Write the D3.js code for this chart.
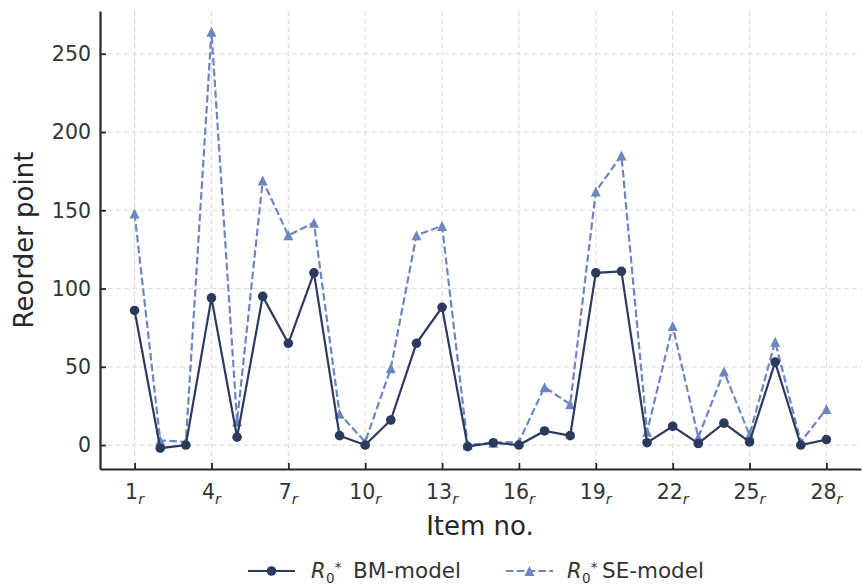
<!DOCTYPE html>
<html>
<head>
<meta charset="utf-8">
<script src="https://cdn.jsdelivr.net/npm/d3@7"></script>
<style>
  html, body { margin: 0; padding: 0; background: #fff; }
  svg { display: block; font-family: "DejaVu Sans", sans-serif; }
</style>
</head>
<body>
<svg id="chart" width="863" height="586"></svg>
<script>
const items = d3.range(1, 29);
const bmValues = [86, -2, 0, 94, 5, 95, 65, 110, 6, 0, 16, 65, 88, -1, 1.5, 0, 9, 6, 110, 111, 1.5, 12, 1, 14, 2, 53, 0, 3.5];
const seValues = [148, 3, 2, 264, 15, 169, 134, 142, 20, 2, 49, 134, 140, 0, 1.5, 2, 37, 26, 162, 185, 8.5, 76, 5, 47, 6.5, 66, 2, 23];
const xTicks = [1, 4, 7, 10, 13, 16, 19, 22, 25, 28];
const yTicks = [0, 50, 100, 150, 200, 250];
const seriesNames = ["BM-model", "SE-model"];

(function () {
const svg = d3.select("#chart");
const pLeft = 100, pRight = 861, pTop = 11, pBottom = 469;
const bmColor = "#2c3a5e", seColor = "#6d85c0";
const textColor = "#333333";
const spineColor = "#262626";

const xPad = (d3.max(items) - d3.min(items)) * 0.05;
const x = d3.scaleLinear().domain([d3.min(items) - xPad, d3.max(items) + xPad]).range([pLeft, pRight]);
const allV = bmValues.concat(seValues);
const yMin = d3.min(allV), yMax = d3.max(allV), yPad = (yMax - yMin) * 0.05;
const y = d3.scaleLinear().domain([yMin - yPad, yMax + yPad]).range([pBottom, pTop]);

// grid
const grid = svg.append("g");
grid.selectAll("line.vg").data(xTicks).enter().append("line")
  .attr("x1", d => x(d)).attr("x2", d => x(d)).attr("y1", pTop).attr("y2", pBottom)
  .attr("stroke", "#dddddd").attr("stroke-width", 1.2).attr("stroke-dasharray", "5,3");
grid.selectAll("line.hg").data(yTicks).enter().append("line")
  .attr("x1", pLeft).attr("x2", pRight).attr("y1", d => y(d)).attr("y2", d => y(d))
  .attr("stroke", "#dddddd").attr("stroke-width", 1.2).attr("stroke-dasharray", "5,3");

// axes
const xAxis = d3.axisBottom(x).tickValues(xTicks).tickSizeInner(-6).tickSizeOuter(0).tickFormat("");
const gx = svg.append("g").attr("transform", `translate(0,${pBottom})`).call(xAxis);
gx.select(".domain").attr("stroke", spineColor).attr("stroke-width", 2.2);
gx.selectAll(".tick line").attr("stroke", spineColor).attr("stroke-width", 1.8);

const yAxis = d3.axisLeft(y).tickValues(yTicks).tickSizeInner(-6).tickSizeOuter(0).tickFormat("");
const gy = svg.append("g").attr("transform", `translate(${pLeft},0)`).call(yAxis);
gy.select(".domain").attr("stroke", spineColor).attr("stroke-width", 2.2);
gy.selectAll(".tick line").attr("stroke", spineColor).attr("stroke-width", 1.8);

// tick labels
const xl = svg.append("g");
xTicks.forEach(t => {
  const tx = xl.append("text").attr("x", x(t)).attr("y", 499).attr("text-anchor", "middle")
    .attr("font-size", 20.5).attr("fill", textColor);
  tx.append("tspan").text(String(t));
  tx.append("tspan").attr("font-style", "italic").attr("font-size", 14.5).attr("dy", 4.5).text("r");
});
svg.append("g").selectAll("text").data(yTicks).enter().append("text")
  .attr("x", 91).attr("y", d => y(d)).attr("dy", "0.36em").attr("text-anchor", "end")
  .attr("font-size", 20.5).attr("fill", textColor).text(d => d);

// axis labels
svg.append("text").attr("x", 480).attr("y", 535).attr("text-anchor", "middle")
  .attr("font-size", 26).attr("fill", "#262626").text("Item no.");
svg.append("text").attr("transform", `translate(33,${(pTop + pBottom) / 2}) rotate(-90)`)
  .attr("text-anchor", "middle").attr("font-size", 26).attr("fill", "#262626").text("Reorder point");

// markers
const triangle = {
  draw(ctx, size) {
    const h = Math.sqrt(size) / 2;
    ctx.moveTo(0, -h);
    ctx.lineTo(h, h);
    ctx.lineTo(-h, h);
    ctx.closePath();
  }
};
const tri = d3.symbol().type(triangle).size(100);

// lines
const bmData = items.map((d, i) => [d, bmValues[i]]);
const seData = items.map((d, i) => [d, seValues[i]]);
const line = d3.line().x(d => x(d[0])).y(d => y(d[1]));

svg.append("path").datum(seData).attr("d", line).attr("fill", "none")
  .attr("stroke", seColor).attr("stroke-width", 2.2).attr("stroke-dasharray", "7.5,3.3");
svg.append("g").selectAll("path").data(seData).enter().append("path")
  .attr("d", tri).attr("transform", d => `translate(${x(d[0])},${y(d[1])})`).attr("fill", seColor);

svg.append("path").datum(bmData).attr("d", line).attr("fill", "none")
  .attr("stroke", bmColor).attr("stroke-width", 2.2);
svg.append("g").selectAll("circle").data(bmData).enter().append("circle")
  .attr("cx", d => x(d[0])).attr("cy", d => y(d[1])).attr("r", 4.8).attr("fill", bmColor);

// legend
const ly = 571, lb = 578;
const leg = svg.append("g");
function rLabel(xp, nameX, name) {
  const t = leg.append("text").attr("x", xp).attr("y", lb).attr("font-size", 21).attr("fill", textColor);
  t.append("tspan").attr("font-style", "italic").text("R");
  t.append("tspan").attr("font-size", 13.5).attr("dx", 0.5).attr("dy", 5).text("0");
  t.append("tspan").attr("font-size", 13.5).attr("dx", 0).attr("dy", -11).text("*");
  leg.append("text").attr("x", nameX).attr("y", lb).attr("font-size", 21.5)
    .attr("fill", textColor).text(name);
}
leg.append("line").attr("x1", 248).attr("x2", 295).attr("y1", ly).attr("y2", ly)
  .attr("stroke", bmColor).attr("stroke-width", 2.2);
leg.append("circle").attr("cx", 271.5).attr("cy", ly).attr("r", 4.8).attr("fill", bmColor);
rLabel(311, 353, seriesNames[0]);
leg.append("line").attr("x1", 506).attr("x2", 553).attr("y1", ly).attr("y2", ly)
  .attr("stroke", seColor).attr("stroke-width", 2.2).attr("stroke-dasharray", "7.5,3.3");
leg.append("path").attr("d", tri).attr("transform", `translate(529.5,${ly})`).attr("fill", seColor);
rLabel(567, 602, seriesNames[1]);
})();
</script>
</body>
</html>
